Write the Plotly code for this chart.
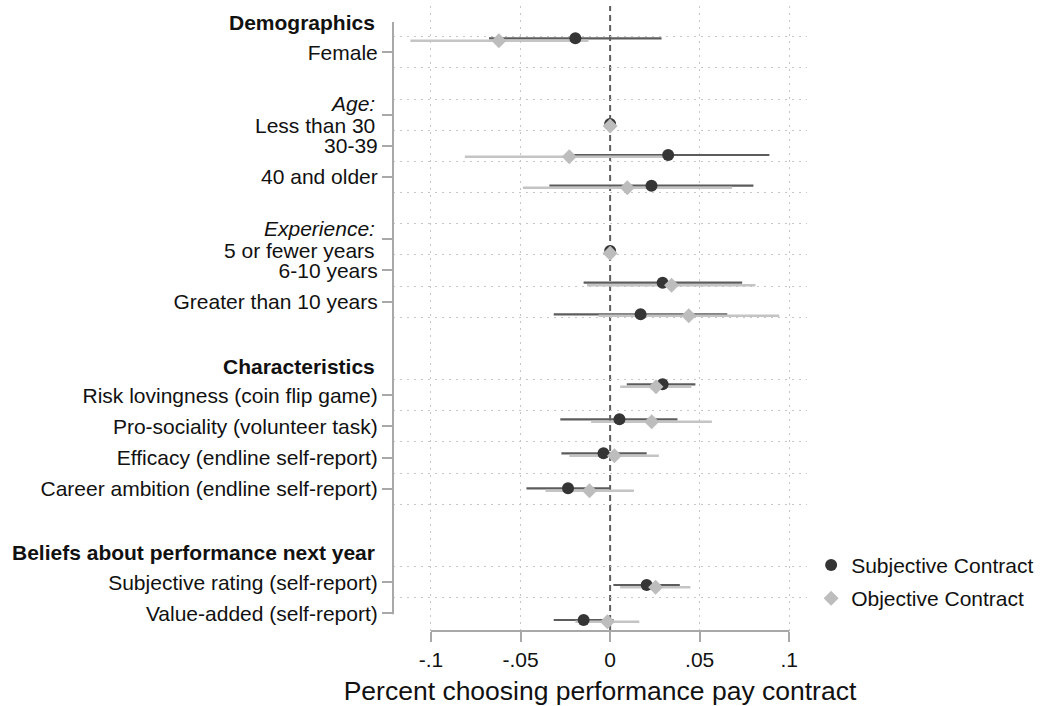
import plotly.graph_objects as go

# ---------------- data ----------------
labels = [
    "Female",
    "Less than 30",
    "30-39",
    "40 and older",
    "5 or fewer years",
    "6-10 years",
    "Greater than 10 years",
    "Risk lovingness (coin flip game)",
    "Pro-sociality (volunteer task)",
    "Efficacy (endline self-report)",
    "Career ambition (endline self-report)",
    "Subjective rating (self-report)",
    "Value-added (self-report)",
]
# sub-group captions written above the first category of a group
subgroup_caption = ["", "Age:", "", "", "Experience:", "", "", "", "", "", "", "", ""]
headings = ["Demographics", "Characteristics", "Beliefs about performance next year"]

subj_coef = [-0.0194, 0.0, 0.0324, 0.0231, 0.0, 0.0293, 0.0170, 0.0293, 0.0052, -0.0037, -0.0235, 0.0204, -0.0148]
subj_lo = [-0.0676, 0.0, -0.0240, -0.0339, 0.0, -0.0148, -0.0315, 0.0093, -0.0278, -0.0272, -0.0467, 0.0018, -0.0315]
subj_hi = [0.0287, 0.0, 0.0889, 0.0800, 0.0, 0.0737, 0.0654, 0.0476, 0.0376, 0.0204, 0.0001, 0.0389, 0.0019]

obj_coef = [-0.0621, 0.0, -0.0228, 0.0096, 0.0, 0.0343, 0.0439, 0.0256, 0.0232, 0.0024, -0.0115, 0.0254, -0.0015]
obj_lo = [-0.1115, 0.0, -0.0811, -0.0487, 0.0, -0.0129, -0.0065, 0.0056, -0.0106, -0.0228, -0.0361, 0.0056, -0.0194]
obj_hi = [-0.0121, 0.0, 0.0355, 0.0681, 0.0, 0.0811, 0.0944, 0.0454, 0.0568, 0.0272, 0.0133, 0.0448, 0.0163]

x_ticks = [-0.1, -0.05, 0, 0.05, 0.1]
x_tick_text = ["-.1", "-.05", "0", ".05", ".1"]
x_title = "Percent choosing performance pay contract"
series_names = ["Subjective Contract", "Objective Contract"]

# ---------------- layout of category slots ----------------
tick_rows = [0, 2, 3, 4, 6, 7, 8, 11, 12, 13, 14, 17, 18]
heading_rows = [-0.95, 10.08, 16.05]
subj_slot = [-0.449, 2.300, 3.295, 4.280, 6.375, 7.392, 8.405, 10.651, 11.774, 12.865, 13.988, 17.090, 18.213]
obj_slot = [-0.372, 2.364, 3.349, 4.344, 6.449, 7.475, 8.450, 10.728, 11.851, 12.942, 14.065, 17.164, 18.267]
grid_rows = [r + 0.5 for r in range(-1, 9)] + [10.5, 11.5, 12.5, 13.5, 14.5, 16.5, 17.5]
TWO_LINE_SHIFT = 0.345

FONT = "Liberation Sans, Arial, Helvetica, sans-serif"
TXT = "#111111"
DARK_LINE = "#5c5c5c"
LIGHT_LINE = "#c4c4c4"
DARK_MARK = "#353535"
LIGHT_MARK = "#bdbdbd"
AXIS_GRAY = "#a8a8a8"
GRID_GRAY = "#c6c6c6"
LABEL_X = -0.039  # paper x of the right edge of the category labels

fig = go.Figure()

# confidence intervals
fig.add_trace(go.Scatter(
    x=subj_coef, y=subj_slot, mode="markers",
    marker=dict(size=2, opacity=0),
    error_x=dict(type="data", symmetric=False,
                 array=[h - c for h, c in zip(subj_hi, subj_coef)],
                 arrayminus=[c - l for c, l in zip(subj_coef, subj_lo)],
                 color=DARK_LINE, thickness=2.2, width=0),
    showlegend=False, hoverinfo="skip"))
fig.add_trace(go.Scatter(
    x=obj_coef, y=obj_slot, mode="markers",
    marker=dict(size=2, opacity=0),
    error_x=dict(type="data", symmetric=False,
                 array=[h - c for h, c in zip(obj_hi, obj_coef)],
                 arrayminus=[c - l for c, l in zip(obj_coef, obj_lo)],
                 color=LIGHT_LINE, thickness=2.4, width=0),
    showlegend=False, hoverinfo="skip"))

# point estimates
fig.add_trace(go.Scatter(
    x=subj_coef, y=subj_slot, mode="markers", name=series_names[0],
    legendgroup="a",
    marker=dict(symbol="circle", size=12, color=DARK_MARK, line=dict(width=0))))
fig.add_trace(go.Scatter(
    x=obj_coef, y=obj_slot, mode="markers", name=series_names[1],
    legendgroup="b",
    marker=dict(symbol="diamond", size=11.5, color=LIGHT_MARK, line=dict(width=0))))

# zero reference line
fig.add_shape(type="line", xref="x", yref="paper", x0=0, x1=0, y0=0, y1=1,
              line=dict(color="#5f5f5f", width=2, dash="6px,4px"), layer="between")
# axis lines (Stata-style, spanning the tick range only)
fig.add_shape(type="line", xref="paper", yref="y", x0=0, x1=0, y0=-0.97, y1=18.03,
              line=dict(color=AXIS_GRAY, width=2), layer="above")
fig.add_shape(type="line", xref="x", yref="paper", x0=x_ticks[0], x1=x_ticks[-1], y0=0, y1=0,
              line=dict(color=AXIS_GRAY, width=2), layer="above")

# group headings
for h, r in zip(headings, heading_rows):
    fig.add_annotation(text="<b>" + h + "</b>", xref="paper", yref="y",
                       x=LABEL_X, y=r, xanchor="right", yanchor="middle",
                       showarrow=False, font=dict(family=FONT, size=21, color=TXT))

# category labels: single-line ones as tick labels, two-line ones as annotations
tick_text = []
for lab, cap, r in zip(labels, subgroup_caption, tick_rows):
    if cap:
        tick_text.append("")
        fig.add_annotation(text="<i>" + cap + "</i>", xref="paper", yref="y",
                           x=LABEL_X, y=r - TWO_LINE_SHIFT, xanchor="right", yanchor="middle",
                           showarrow=False, font=dict(family=FONT, size=21, color=TXT))
        fig.add_annotation(text=lab, xref="paper", yref="y",
                           x=LABEL_X, y=r + TWO_LINE_SHIFT, xanchor="right", yanchor="middle",
                           showarrow=False, font=dict(family=FONT, size=21, color=TXT))
    else:
        tick_text.append(lab)

fig.update_layout(
    width=1042, height=706,
    margin=dict(l=393, r=235, t=6, b=75, pad=0, autoexpand=False),
    paper_bgcolor="white", plot_bgcolor="white",
    font=dict(family=FONT, size=21, color=TXT),
    showlegend=True,
    legend=dict(x=1.01, xanchor="left", y=0.138, yanchor="top",
                traceorder="grouped", tracegroupgap=3,
                font=dict(family=FONT, size=21, color=TXT),
                bgcolor="rgba(0,0,0,0)"),
    xaxis=dict(range=[-0.1212, 0.1099], tickvals=x_ticks, ticktext=x_tick_text,
               ticks="outside", ticklen=10, tickwidth=1.5, tickcolor=AXIS_GRAY,
               showline=False, zeroline=False, showgrid=False, automargin=False,
               tickfont=dict(family=FONT, size=21, color=TXT),
               title=dict(text=x_title, font=dict(family=FONT, size=26.5, color=TXT), standoff=12),
               minor=dict(tickvals=[-0.1, -0.05, 0.05, 0.1], showgrid=True,
                          gridcolor=GRID_GRAY, griddash="2px,5px", gridwidth=1, ticks="")),
    yaxis=dict(range=[18.566, -1.485], tickvals=tick_rows, ticktext=tick_text,
               ticks="outside", ticklen=10, tickwidth=1.5, tickcolor=AXIS_GRAY,
               showline=False, zeroline=False, showgrid=False, automargin=False,
               tickfont=dict(family=FONT, size=21, color=TXT),
               minor=dict(tickvals=grid_rows, showgrid=True,
                          gridcolor=GRID_GRAY, griddash="2px,5px", gridwidth=1, ticks="")),
)

fig.write_html("out.html", config={"displayModeBar": False},
               post_script="document.body.style.margin='0px';")
